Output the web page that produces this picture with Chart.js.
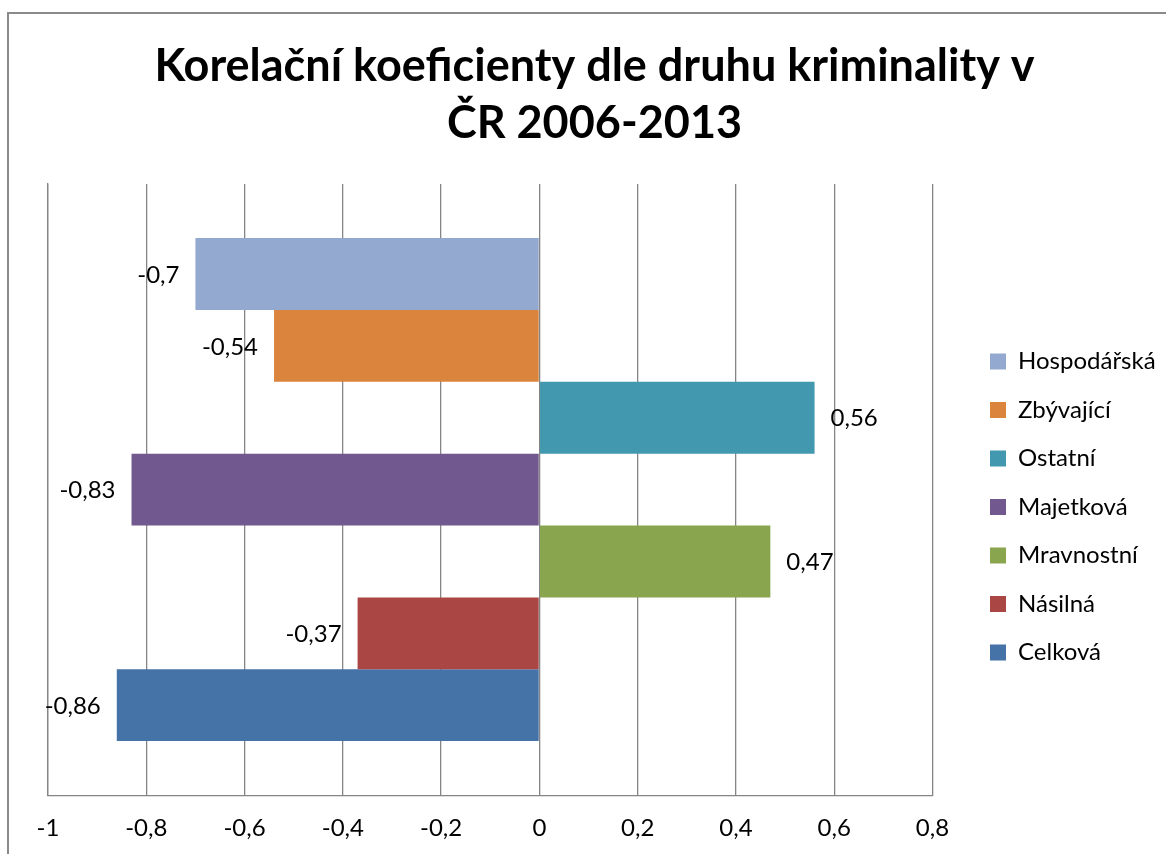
<!DOCTYPE html>
<html>
<head>
<meta charset="utf-8">
<script src="https://cdn.jsdelivr.net/npm/chart.js@4/dist/chart.umd.min.js"></script>
<style>
  html, body { margin: 0; padding: 0; background: #fff; overflow: hidden; }
  #frame { position: absolute; left: 7px; top: 12px; width: 1300px; height: 1000px; border: 2px solid #8a8a8a; box-sizing: border-box; }
  #wrap { position: absolute; left: 0; top: 0; width: 1166px; height: 854px; }
</style>
</head>
<body>
<div id="frame"></div>
<div id="wrap"><canvas id="c"></canvas></div>
<script>
// ---- data ----
const titleLines = ['Korelační koeficienty dle druhu kriminality v', 'ČR 2006-2013'];
const categories = [''];
const seriesNames = ['Hospodářská', 'Zbývající', 'Ostatní', 'Majetková', 'Mravnostní', 'Násilná', 'Celková'];
const seriesValues = [-0.7, -0.54, 0.56, -0.83, 0.47, -0.37, -0.86];
const seriesColors = ['#93A9CF', '#DB843D', '#4198AF', '#71588F', '#89A54E', '#AA4643', '#4572A7'];
const xMin = -1, xMax = 0.8, xStep = 0.2;

const FONT = 'Lato, "Open Sans", sans-serif';
const fmt = v => String(Math.round(v * 100) / 100).replace('.', ',');

const datasets = seriesNames.map((name, i) => ({
  label: name,
  data: [seriesValues[i]],
  backgroundColor: seriesColors[i],
  borderWidth: 0,
  categoryPercentage: 0.823,
  barPercentage: 1.0
}));

const valueLabels = {
  id: 'valueLabels',
  afterDatasetsDraw(chart) {
    const ctx = chart.ctx;
    ctx.save();
    ctx.font = '24px ' + FONT;
    ctx.fillStyle = '#000';
    ctx.textBaseline = 'middle';
    chart.data.datasets.forEach((ds, i) => {
      const meta = chart.getDatasetMeta(i);
      meta.data.forEach((el, j) => {
        const v = ds.data[j];
        if (v < 0) { ctx.textAlign = 'right'; ctx.fillText(fmt(v), el.x - 16, el.y + 1); }
        else { ctx.textAlign = 'left'; ctx.fillText(fmt(v), el.x + 16, el.y + 1); }
      });
    });
    ctx.restore();
  }
};

// moves the legend block down beside the middle of the plot and widens its clip box
const legendShift = {
  id: 'legendShift',
  afterLayout(chart) {
    const lg = chart.legend;
    if (lg) { lg.top += 76; lg.bottom += 76; lg.right += 20; lg.width += 20; }
  }
};

function build() {
  new Chart(document.getElementById('c'), {
    type: 'bar',
    data: { labels: categories, datasets },
    options: {
      indexAxis: 'y',
      responsive: true,
      maintainAspectRatio: false,
      animation: false,
      layout: { padding: { left: 38, right: 15, top: 0, bottom: -8 } },
      plugins: {
        tooltip: { enabled: false },
        title: {
          display: true,
          text: titleLines,
          color: '#000',
          font: { family: FONT, size: 45, weight: 'bold', lineHeight: 57 / 45 },
          padding: { top: 38, bottom: 32 }
        },
        legend: {
          position: 'right',
          align: 'center',
          labels: {
            color: '#000',
            font: { family: FONT, size: 24 },
            boxWidth: 16,
            boxHeight: 16,
            padding: 24.5
          }
        }
      },
      scales: {
        x: {
          type: 'linear',
          min: xMin,
          max: xMax,
          ticks: { stepSize: xStep, color: '#000', font: { family: FONT, size: 24 }, padding: 19, callback: v => fmt(v) },
          grid: { color: '#858585', lineWidth: 1.3, drawTicks: false, tickLength: 0 },
          border: { display: true, color: '#858585', width: 1.3 }
        },
        y: {
          type: 'category',
          ticks: { display: false },
          grid: { display: false, drawTicks: false, tickLength: 0 },
          border: { display: true, color: '#858585', width: 1.3 },
          afterFit(s) { s.width = 10; }
        },
        yPad: {
          type: 'category',
          position: 'right',
          ticks: { display: false },
          grid: { display: false, drawTicks: false, tickLength: 0 },
          border: { display: false },
          afterFit(s) { s.width = 33; }
        }
      }
    },
    plugins: [valueLabels, legendShift]
  });
}

Promise.all([
  document.fonts.load('24px Lato'),
  document.fonts.load('bold 45px Lato')
]).then(build, build);
</script>
</body>
</html>
